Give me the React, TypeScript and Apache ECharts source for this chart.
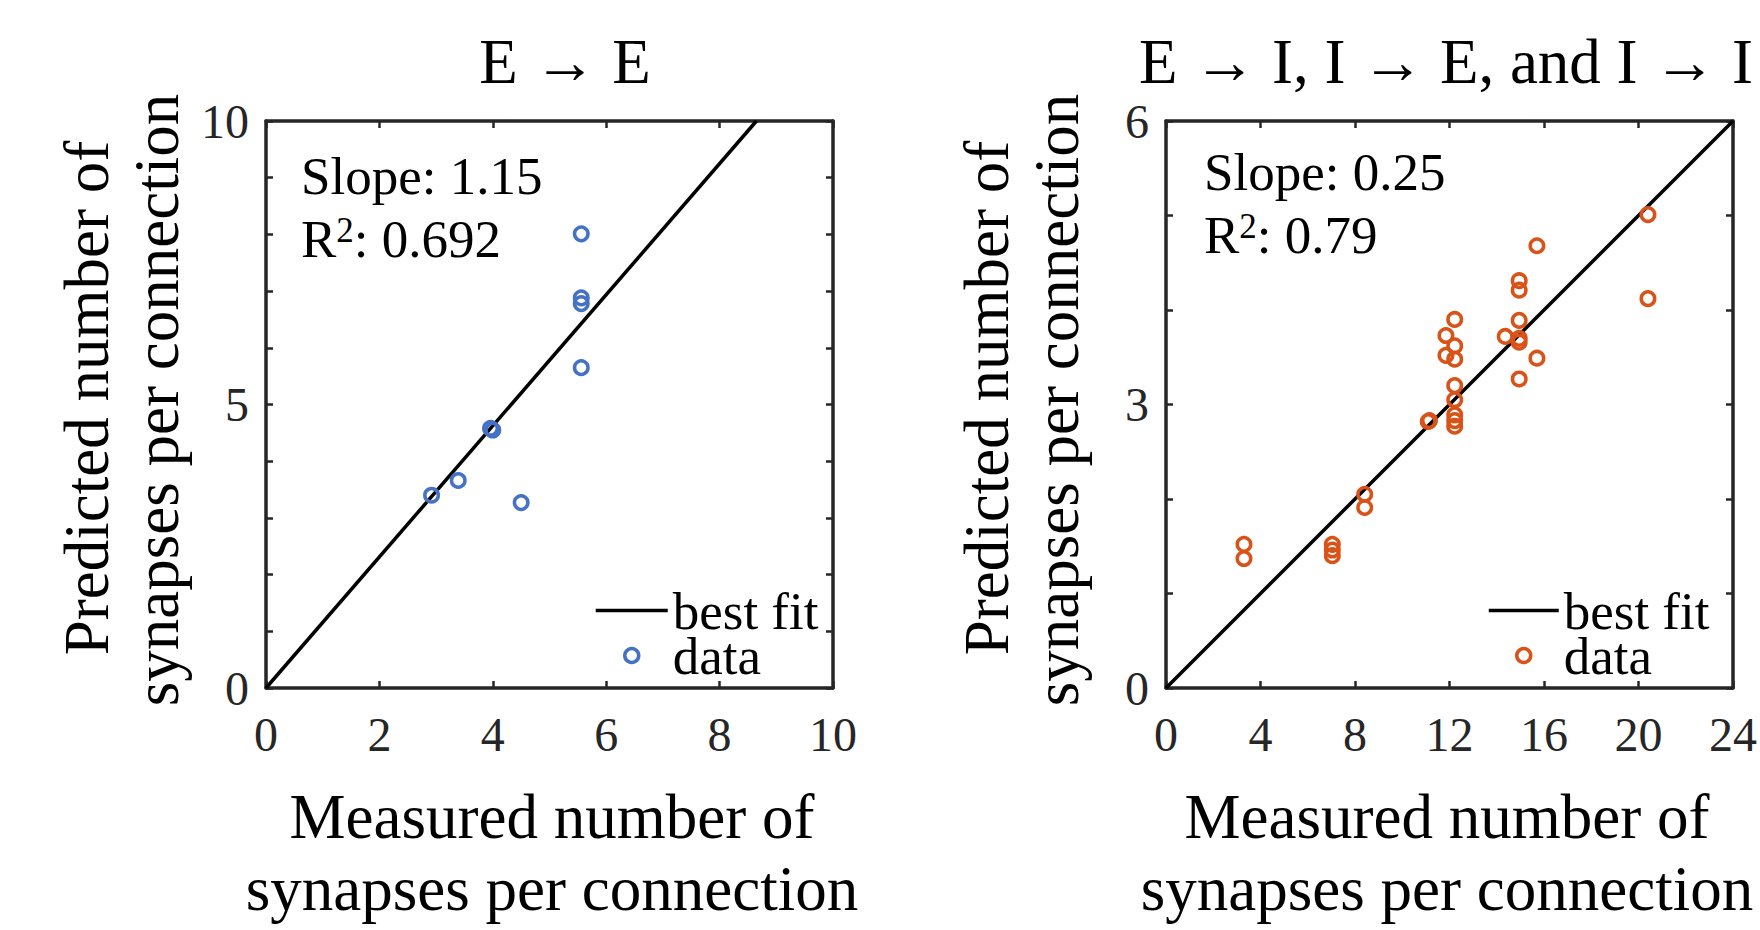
import React, { useEffect, useRef } from "react";
import * as echarts from "echarts";

// ---- data ----
const eeTitle = "E \u2192 E";
const eiTitle = "E \u2192 I, I \u2192 E, and I \u2192 I";
const yLabelLines = ["Predicted number of", "synapses per connection"];
const xLabelLines = ["Measured number of", "synapses per connection"];

const eeMeasured = [5.56, 5.56, 5.56, 5.56, 3.96, 4.0, 3.39, 2.92, 4.5];
const eePredicted = [8.01, 6.88, 6.78, 5.65, 4.58, 4.55, 3.66, 3.4, 3.27];
const eeFitX = [0, 8.65];
const eeFitY = [0, 10];
const eeSlope = "1.15";
const eeR2 = "0.692";

const eiMeasured = [20.4, 20.4, 15.7, 14.95, 14.95, 14.95, 14.36, 14.95, 14.95, 15.7, 14.95, 12.22, 11.85, 12.22, 11.85, 12.22, 12.22, 12.22, 12.22, 12.22, 12.22, 11.1, 11.15, 8.41, 8.41, 7.04, 7.04, 7.04, 3.3, 3.3];
const eiPredicted = [5.01, 4.12, 4.68, 4.31, 4.21, 3.89, 3.72, 3.7, 3.66, 3.49, 3.27, 3.9, 3.73, 3.62, 3.52, 3.48, 3.2, 3.05, 2.89, 2.83, 2.77, 2.82, 2.83, 2.05, 1.91, 1.52, 1.46, 1.4, 1.52, 1.37];
const eiFitX = [0, 24];
const eiFitY = [0, 6];
const eiSlope = "0.25";
const eiR2 = "0.79";

const eeXTicks = { min: 0, max: 10, interval: 2 };
const eeYTicks = { min: 0, max: 10, interval: 1, labelEvery: 5 };
const eiXTicks = { min: 0, max: 24, interval: 4 };
const eiYTicks = { min: 0, max: 6, interval: 1, labelEvery: 3 };

const legendNames = ["best fit", "data"];

// ---- styles ----
const FONT = "'Liberation Serif', 'Times New Roman', Times, serif";
const AX = "#262626";
const BLUE = "#4472C4";
const ORANGE = "#D95319";

const zip = (xs: number[], ys: number[]) => xs.map((x, i) => [x, ys[i]]);

function xAxes(grid: number, t: any) {
  const base = {
    gridIndex: grid,
    type: "value",
    min: t.min,
    max: t.max,
    interval: t.interval,
    axisLine: { show: true, onZero: false, lineStyle: { color: AX, width: 3.5 } },
    axisTick: { show: true, inside: true, length: 7, lineStyle: { color: AX, width: 2.5 } },
    splitLine: { show: false },
  };
  return [
    { ...base, position: "bottom", axisLabel: { margin: 22, fontSize: 48, fontFamily: FONT, color: AX } },
    { ...base, position: "top", axisLabel: { show: false } },
  ];
}

function yAxes(grid: number, t: any) {
  const base = {
    gridIndex: grid,
    type: "value",
    min: t.min,
    max: t.max,
    interval: t.interval,
    axisLine: { show: true, onZero: false, lineStyle: { color: AX, width: 3.5 } },
    axisTick: { show: true, inside: true, length: 7, lineStyle: { color: AX, width: 2.5 } },
    splitLine: { show: false },
  };
  return [
    {
      ...base,
      position: "left",
      axisLabel: {
        margin: 17,
        fontSize: 48,
        fontFamily: FONT,
        color: AX,
        formatter: (v: number) => (Math.round(v) % t.labelEvery === 0 ? String(Math.round(v)) : ""),
      },
    },
    { ...base, position: "right", axisLabel: { show: false } },
  ];
}

function textEl(text: string, x: number, y: number, size: number, opts: any = {}) {
  return {
    type: "text",
    x,
    y,
    rotation: opts.rotation || 0,
    silent: true,
    style: {
      text,
      fill: "#000",
      fontSize: size,
      fontFamily: FONT,
      align: opts.align || "center",
      verticalAlign: "middle",
    },
  };
}

function r2El(value: string, x: number, y: number) {
  return {
    type: "text",
    x,
    y,
    silent: true,
    style: {
      text: `{a|R}{s|2}{a|: ${value}}`,
      align: "left",
      verticalAlign: "middle",
      rich: {
        a: { fontSize: 53, fontFamily: FONT, fill: "#000", color: "#000" },
        s: { fontSize: 35, fontFamily: FONT, fill: "#000", color: "#000", verticalAlign: "top" },
      },
    },
  };
}

function legendCfg(left: number, top: number, width: number, names: string[], color: string) {
  return {
    left,
    top,
    orient: "vertical",
    padding: 0,
    itemGap: -8,
    itemWidth: width,
    itemHeight: 14,
    selectedMode: false,
    formatter: (n: string) => n.replace(" (I)", ""),
    textStyle: { fontSize: 53, fontFamily: FONT, color: "#000" },
    data: [
      {
        name: names[0],
        lineStyle: { color: "#000", width: 3.5 },
        itemStyle: { color: "rgba(0,0,0,0)", borderWidth: 0, opacity: 0 },
      },
      { name: names[1], itemStyle: { color: "rgba(0,0,0,0)", borderColor: color, borderWidth: 3.5 } },
    ],
  };
}

export default function App() {
  const ref = useRef<HTMLDivElement>(null);

  useEffect(() => {
    if (!ref.current) return;
    const chart = echarts.init(ref.current, undefined, { renderer: "svg" });
    const rightNames = legendNames.map((n) => n + " (I)");

    const fitSeries = (name: string, xi: number, data: number[][]) => ({
      name,
      type: "line",
      xAxisIndex: xi,
      yAxisIndex: xi,
      data,
      symbol: "none",
      showSymbol: false,
      itemStyle: { color: "#000" },
      lineStyle: { color: "#000", width: 3.5 },
      z: 2,
    });
    const dataSeries = (name: string, xi: number, data: number[][], color: string) => ({
      name,
      type: "scatter",
      xAxisIndex: xi,
      yAxisIndex: xi,
      data,
      symbol: "circle",
      symbolSize: 13.5,
      itemStyle: { color: "rgba(0,0,0,0)", borderColor: color, borderWidth: 3.5, opacity: 1 },
      z: 3,
    });

    const option: any = {
      animation: false,
      backgroundColor: "#fff",
      grid: [
        { left: 266, top: 121, width: 567, height: 567 },
        { left: 1166, top: 121, width: 567, height: 567 },
      ],
      xAxis: [...xAxes(0, eeXTicks), ...xAxes(1, eiXTicks)],
      yAxis: [...yAxes(0, eeYTicks), ...yAxes(1, eiYTicks)],
      legend: [
        legendCfg(594, 584, 72, legendNames, BLUE),
        legendCfg(1487, 584, 70, rightNames, ORANGE),
      ],
      series: [
        fitSeries(legendNames[0], 0, zip(eeFitX, eeFitY)),
        dataSeries(legendNames[1], 0, zip(eeMeasured, eePredicted), BLUE),
        fitSeries(rightNames[0], 2, zip(eiFitX, eiFitY)),
        dataSeries(rightNames[1], 2, zip(eiMeasured, eiPredicted), ORANGE),
      ],
      graphic: [
        textEl(eeTitle, 565, 62, 63),
        textEl(eiTitle, 1446, 62, 63),
        textEl(yLabelLines[0], 87, 398, 63, { rotation: Math.PI / 2 }),
        textEl(yLabelLines[1], 157, 400, 63, { rotation: Math.PI / 2 }),
        textEl(yLabelLines[0], 987, 398, 63, { rotation: Math.PI / 2 }),
        textEl(yLabelLines[1], 1057, 400, 63, { rotation: Math.PI / 2 }),
        textEl(xLabelLines[0], 552, 817, 63),
        textEl(xLabelLines[1], 552, 889, 63),
        textEl(xLabelLines[0], 1447, 817, 63),
        textEl(xLabelLines[1], 1447, 889, 63),
        textEl(`Slope: ${eeSlope}`, 301, 176, 53, { align: "left" }),
        r2El(eeR2, 301, 239),
        textEl(`Slope: ${eiSlope}`, 1204, 172, 53, { align: "left" }),
        r2El(eiR2, 1204, 235),
      ],
    };
    chart.setOption(option);
    return () => chart.dispose();
  }, []);

  return (
    <div
      ref={ref}
      style={{ position: "absolute", left: 0, top: 0, width: 1760, height: 930, background: "#fff" }}
    />
  );
}
